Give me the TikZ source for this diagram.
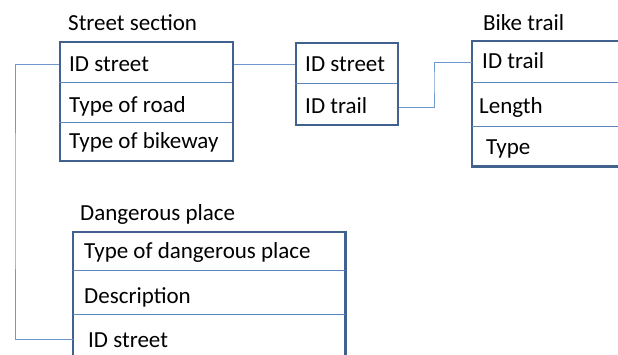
\documentclass[tikz,border=0pt]{standalone}
\usepackage{fontspec}
\setmainfont{Carlito}
\definecolor{frame}{HTML}{41618F}
\definecolor{rule}{HTML}{5B86C0}
\definecolor{wire}{HTML}{6F99CE}
\begin{document}
\begin{tikzpicture}[x=1pt,y=-1pt,
  tbl/.style={draw=frame,line width=2.2pt,anchor=north west,inner sep=0pt},
  box/.style={anchor=north west,inner sep=0pt},
  edge/.style={draw=frame,line width=2.2pt},
  sep/.style={draw=rule,line width=0.9pt},
  link/.style={draw=wire,line width=1pt},
  fld/.style={anchor=base west,inner sep=0pt,font=\fontsize{23}{28}\selectfont},
  ttl/.style={anchor=base west,inner sep=0pt,font=\fontsize{23}{28}\selectfont}]
\useasboundingbox (0,0) rectangle (618,354);
\fill[white] (0,0) rectangle (618,354);
\clip (0,0) rectangle (618,354);

% Street section
\node[ttl] (sstitle) at (68,30) {Street section};
\node[tbl,minimum width=173pt,minimum height=119pt] (ssbox) at (59,41) {};
\draw[sep] (59,82) -- (232,82);
\draw[sep] (59,122) -- (232,122);
\node[fld] (ssid) at (69,71) {ID street};
\node[fld] (ssroad) at (69,112) {Type of road};
\node[fld] (ssbike) at (69,148) {Type of bikeway};

% Link table
\node[tbl,minimum width=102pt,minimum height=82pt] (lkbox) at (295,42) {};
\draw[sep] (295,83) -- (397,83);
\node[fld] (lkid) at (305,71) {ID street};
\node[fld] (lktrail) at (305,113) {ID trail};

% Bike trail (runs past the right edge)
\node[ttl] (bttitle) at (483,30) {Bike trail};
\node[box,minimum width=170pt,minimum height=125pt] (btbox) at (472,41) {};
\draw[edge] (btbox.north east) -- (btbox.north west) -- (btbox.south west) -- (btbox.south east);
\draw[sep] (472,82) -- (btbox.east |- 0,82);
\draw[sep] (472,126) -- (btbox.east |- 0,126);
\node[fld] (btid) at (482,68) {ID trail};
\node[fld] (btlen) at (479,113) {Length};
\node[fld] (bttype) at (486,154) {Type};

% Dangerous place (runs past the bottom edge)
\node[ttl] (dptitle) at (80,220) {Dangerous place};
\node[box,minimum width=272pt,minimum height=140pt] (dpbox) at (73,232) {};
\draw[edge] (dpbox.south west) -- (dpbox.north west) -- (dpbox.north east) -- (dpbox.south east);
\draw[sep] (73,270) -- (345,270);
\draw[sep] (73,314) -- (345,314);
\node[fld] (dptype) at (84,258) {Type of dangerous place};
\node[fld] (dpdesc) at (84,303) {Description};
\node[fld] (dpid) at (88,347) {ID street};

% Connectors
\coordinate (y1) at (0,64);
\coordinate (y2) at (0,107);
\coordinate (y3) at (0,62);
\coordinate (y4) at (0,339);
\coordinate (bendA) at (15,200);
\coordinate (bendB) at (434,80);
\draw[link] (ssbox.west |- y1) -| (bendA) |- (dpbox.west |- y4);
\draw[link] (ssbox.east |- y1) -- (lkbox.west |- y1);
\draw[link] (lkbox.east |- y2) -| (bendB) |- (btbox.west |- y3);
\end{tikzpicture}
\end{document}
